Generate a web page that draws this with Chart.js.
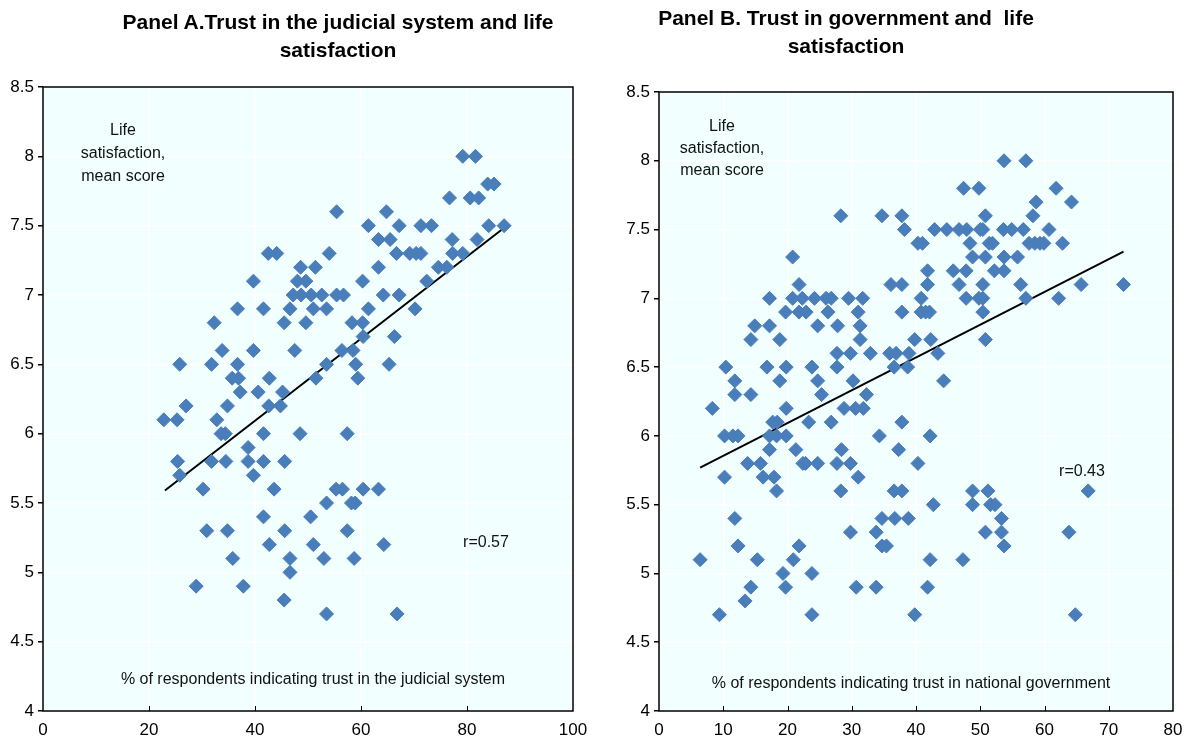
<!DOCTYPE html>
<html lang="en">
<head>
<meta charset="UTF-8">
<title>Trust and life satisfaction</title>
<script src="https://cdn.jsdelivr.net/npm/chart.js"></script>
<style>
  body { margin: 0; width: 1186px; height: 746px; background: #fff; overflow: hidden; position: relative;
         font-family: 'Liberation Sans Narrow', 'Arial Narrow', 'Liberation Sans', Arial, sans-serif; color: #111; }
  canvas { position: absolute; top: 0; }
  #chartA { left: 0; }
  #chartB { left: 600px; }
  .lbl { position: absolute; transform: translate(-50%, -50%); text-align: center; white-space: nowrap; z-index: 2; }
  .title { font-weight: bold; font-size: 21px; line-height: 28px; color: #000; }
  .note { font-size: 16px; line-height: 23px; }
</style>
</head>
<body>
<canvas id="chartA" width="600" height="746"></canvas>
<canvas id="chartB" width="600" height="746"></canvas>

<div class="lbl title" style="left:338px; top:36px;">Panel A.Trust in the judicial system and life<br>satisfaction</div>
<div class="lbl title" style="left:846px; top:32px;">Panel B. Trust in government and&nbsp; life<br>satisfaction</div>

<div class="lbl note" style="left:123px; top:152px;">Life<br>satisfaction,<br>mean score</div>
<div class="lbl note" style="left:722px; top:148px; line-height:22px;">Life<br>satisfaction,<br>mean score</div>

<div class="lbl note" style="left:486px; top:541px;">r=0.57</div>
<div class="lbl note" style="left:1082px; top:470px;">r=0.43</div>

<div class="lbl note" style="left:313px; top:678px;">% of respondents indicating trust in the judicial system</div>
<div class="lbl note" style="left:911px; top:682px;">% of respondents indicating trust in national government</div>

<script>
// Panel A: trust in the judicial system (%) vs life satisfaction
const judicialTrust = [
  79.2, 81.6,
  83.9, 85.1,
  76.7, 80.6, 82.2,
  55.4, 64.8,
  61.4, 67.2, 71.3, 73.3, 84.1, 87.0,
  63.3, 65.5, 77.2, 81.9,
  42.5, 44.1, 54.0, 66.7, 69.2, 70.4, 71.3, 77.3, 79.2,
  48.6, 51.4, 63.3, 74.6, 76.2,
  39.7, 48.0, 49.6, 60.3, 72.4,
  47.2, 48.7, 50.6, 52.6, 55.4, 56.7, 64.2, 67.2,
  36.7, 41.6, 46.6, 51.0, 53.5, 61.4, 70.2,
  32.3, 45.5, 49.6, 58.3, 60.3,
  60.4, 66.3,
  33.8, 39.7, 47.5, 56.4, 58.5,
  25.8, 31.8, 36.7, 53.5, 59.0, 65.3,
  35.7, 36.9, 42.7, 51.5, 59.4,
  37.2, 40.6, 45.2,
  27.0, 34.8, 42.6, 44.8,
  22.8, 25.3, 32.8,
  33.6, 34.4, 41.6, 48.5, 57.4,
  38.7,
  25.4, 31.8, 34.5, 38.7, 41.6, 45.6,
  25.8, 39.7,
  30.2, 43.6, 55.3, 56.5, 60.4, 63.3,
  53.5, 58.2, 58.9,
  41.6, 50.5,
  30.9, 34.8, 45.6, 57.4,
  42.7, 51.0, 64.3,
  35.8, 46.6, 53.0, 58.7,
  46.6,
  28.9, 37.8,
  45.5,
  53.5, 66.8
];
const lifeSatA = [
  8.0, 8.0,
  7.8, 7.8,
  7.7, 7.7, 7.7,
  7.6, 7.6,
  7.5, 7.5, 7.5, 7.5, 7.5, 7.5,
  7.4, 7.4, 7.4, 7.4,
  7.3, 7.3, 7.3, 7.3, 7.3, 7.3, 7.3, 7.3, 7.3,
  7.2, 7.2, 7.2, 7.2, 7.2,
  7.1, 7.1, 7.1, 7.1, 7.1,
  7.0, 7.0, 7.0, 7.0, 7.0, 7.0, 7.0, 7.0,
  6.9, 6.9, 6.9, 6.9, 6.9, 6.9, 6.9,
  6.8, 6.8, 6.8, 6.8, 6.8,
  6.7, 6.7,
  6.6, 6.6, 6.6, 6.6, 6.6,
  6.5, 6.5, 6.5, 6.5, 6.5, 6.5,
  6.4, 6.4, 6.4, 6.4, 6.4,
  6.3, 6.3, 6.3,
  6.2, 6.2, 6.2, 6.2,
  6.1, 6.1, 6.1,
  6.0, 6.0, 6.0, 6.0, 6.0,
  5.9,
  5.8, 5.8, 5.8, 5.8, 5.8, 5.8,
  5.7, 5.7,
  5.6, 5.6, 5.6, 5.6, 5.6, 5.6,
  5.5, 5.5, 5.5,
  5.4, 5.4,
  5.3, 5.3, 5.3, 5.3,
  5.2, 5.2, 5.2,
  5.1, 5.1, 5.1, 5.1,
  5.0,
  4.9, 4.9,
  4.8,
  4.7, 4.7
];
const fitA_x = [23.0, 87.2];
const fitA_y = [5.59, 7.49];

// Panel B: trust in national government (%) vs life satisfaction
const govTrust = [
  53.7, 57.1,
  47.4, 49.8, 61.8,
  58.7, 64.2,
  28.3, 34.7, 37.8, 50.8, 58.2,
  38.2, 42.9, 44.8, 46.7, 47.9, 50.0, 50.4, 53.6, 54.9, 56.7, 60.7,
  40.3, 41.0, 48.4, 51.4, 51.9, 57.6, 58.5, 59.3, 59.9, 62.8,
  20.8, 48.8, 50.8, 53.7, 55.8,
  41.8, 45.8, 47.8, 52.2, 53.7,
  21.8, 36.1, 37.8, 41.8, 46.7, 50.4, 56.3, 65.7, 72.3,
  17.2, 20.8, 22.3, 24.2, 26.0, 26.8, 29.5, 31.7, 40.8, 47.8, 49.8, 50.4, 57.1, 62.2,
  19.7, 21.8, 22.9, 26.3, 31.0, 37.8, 40.8, 41.5, 42.1, 50.4,
  14.9, 17.2, 24.7, 27.8, 31.3,
  14.3, 18.8, 31.3, 39.8, 42.3, 50.8,
  27.7, 29.8, 32.9, 35.9, 36.9, 38.9, 43.4,
  10.4, 16.8, 19.8, 23.8, 27.7, 36.6, 38.7,
  11.8, 18.8, 24.7, 30.2, 44.3,
  11.8, 14.3, 25.3, 32.3,
  8.3, 19.8, 28.8, 30.6, 31.8,
  17.7, 18.4, 23.3, 26.8, 37.8,
  10.2, 11.5, 12.3, 17.2, 18.3, 19.8, 34.3, 42.2,
  17.2, 21.3, 28.4, 37.3,
  13.8, 15.8, 22.4, 22.8, 24.7, 27.7, 29.8, 40.3,
  10.2, 16.2, 17.9, 31.0,
  18.3, 28.3, 36.6, 37.8, 48.8, 51.2, 66.8,
  42.7, 48.8, 51.6, 52.3,
  11.8, 34.7, 36.7, 38.8, 53.3,
  29.8, 33.8, 50.8, 53.3, 63.8,
  12.3, 21.8, 34.7, 35.4, 53.7,
  6.4, 15.3, 20.9, 42.2, 47.3,
  19.3, 23.8,
  14.3, 19.7, 30.7, 33.8, 41.8,
  13.4,
  9.4, 23.8, 39.8, 64.8
];
const lifeSatB = [
  8.0, 8.0,
  7.8, 7.8, 7.8,
  7.7, 7.7,
  7.6, 7.6, 7.6, 7.6, 7.6,
  7.5, 7.5, 7.5, 7.5, 7.5, 7.5, 7.5, 7.5, 7.5, 7.5, 7.5,
  7.4, 7.4, 7.4, 7.4, 7.4, 7.4, 7.4, 7.4, 7.4, 7.4,
  7.3, 7.3, 7.3, 7.3, 7.3,
  7.2, 7.2, 7.2, 7.2, 7.2,
  7.1, 7.1, 7.1, 7.1, 7.1, 7.1, 7.1, 7.1, 7.1,
  7.0, 7.0, 7.0, 7.0, 7.0, 7.0, 7.0, 7.0, 7.0, 7.0, 7.0, 7.0, 7.0, 7.0,
  6.9, 6.9, 6.9, 6.9, 6.9, 6.9, 6.9, 6.9, 6.9, 6.9,
  6.8, 6.8, 6.8, 6.8, 6.8,
  6.7, 6.7, 6.7, 6.7, 6.7, 6.7,
  6.6, 6.6, 6.6, 6.6, 6.6, 6.6, 6.6,
  6.5, 6.5, 6.5, 6.5, 6.5, 6.5, 6.5,
  6.4, 6.4, 6.4, 6.4, 6.4,
  6.3, 6.3, 6.3, 6.3,
  6.2, 6.2, 6.2, 6.2, 6.2,
  6.1, 6.1, 6.1, 6.1, 6.1,
  6.0, 6.0, 6.0, 6.0, 6.0, 6.0, 6.0, 6.0,
  5.9, 5.9, 5.9, 5.9,
  5.8, 5.8, 5.8, 5.8, 5.8, 5.8, 5.8, 5.8,
  5.7, 5.7, 5.7, 5.7,
  5.6, 5.6, 5.6, 5.6, 5.6, 5.6, 5.6,
  5.5, 5.5, 5.5, 5.5,
  5.4, 5.4, 5.4, 5.4, 5.4,
  5.3, 5.3, 5.3, 5.3, 5.3,
  5.2, 5.2, 5.2, 5.2, 5.2,
  5.1, 5.1, 5.1, 5.1, 5.1,
  5.0, 5.0,
  4.9, 4.9, 4.9, 4.9, 4.9,
  4.8,
  4.7, 4.7, 4.7, 4.7
];
const fitB_x = [6.4, 72.3];
const fitB_y = [5.77, 7.34];

const yTicks = [4, 4.5, 5, 5.5, 6, 6.5, 7, 7.5, 8, 8.5];

Chart.defaults.font.family = "'Liberation Sans Narrow', 'Arial Narrow', 'Liberation Sans', Arial, sans-serif";
Chart.defaults.font.size = 17;
Chart.defaults.color = '#000';

// light background, black frame and small inward ticks on the x axis
const framePlugin = {
  id: 'frame',
  beforeDraw(chart) {
    const { ctx, chartArea: a } = chart;
    ctx.save();
    ctx.fillStyle = '#f2ffff';
    ctx.fillRect(a.left, a.top, a.width, a.height);
    ctx.restore();
  },
  afterDraw(chart) {
    const { ctx, chartArea: a } = chart;
    const xs = chart.scales.x;
    ctx.save();
    ctx.strokeStyle = '#000';
    ctx.lineWidth = 1.5;
    ctx.strokeRect(a.left, a.top, a.width, a.height);
    ctx.lineWidth = 1;
    xs.ticks.forEach((t, i) => {
      if (i === 0 || i === xs.ticks.length - 1) return;
      const px = Math.round(xs.getPixelForValue(t.value)) + 0.5;
      ctx.beginPath();
      ctx.moveTo(px, a.bottom);
      ctx.lineTo(px, a.bottom - 5);
      ctx.stroke();
    });
    ctx.restore();
  }
};

function makeChart(id, xs, ys, fitX, fitY, xMax, xStep, yAxisWidth, pad) {
  const pts = xs.map((v, i) => ({ x: v, y: ys[i] }));
  const fit = fitX.map((v, i) => ({ x: v, y: fitY[i] }));
  return new Chart(document.getElementById(id), {
    type: 'scatter',
    data: {
      datasets: [
        {
          data: fit,
          type: 'line',
          showLine: true,
          borderColor: '#000',
          borderWidth: 2,
          pointRadius: 0,
          fill: false,
          order: 2
        },
        {
          data: pts,
          pointStyle: 'rectRot',
          pointRadius: 7,
          pointBorderWidth: 1,
          backgroundColor: '#4a7ebb',
          borderColor: '#4a7ebb',
          order: 1
        }
      ]
    },
    options: {
      responsive: false,
      animation: false,
      layout: { padding: pad },
      plugins: { legend: { display: false }, tooltip: { enabled: false } },
      scales: {
        x: {
          type: 'linear',
          min: 0, max: xMax,
          ticks: { stepSize: xStep, padding: 9, maxRotation: 0 },
          grid: { color: '#ffffff', lineWidth: 1.5, drawTicks: false },
          border: { display: false },
          afterFit(s) { s.height = 35; }
        },
        y: {
          type: 'linear',
          min: 4, max: 8.5,
          afterBuildTicks(s) { s.ticks = yTicks.map(v => ({ value: v })); },
          ticks: { padding: 4, callback: v => String(v) },
          grid: { color: '#ffffff', lineWidth: 1.5, tickColor: '#000', tickLength: 5 },
          border: { display: false },
          afterFit(s) { s.width = yAxisWidth; }
        }
      }
    },
    plugins: [framePlugin]
  });
}

makeChart('chartA', judicialTrust, lifeSatA, fitA_x, fitA_y, 100, 20, 43,
  { top: 87, right: 27, bottom: 0, left: 0 });
makeChart('chartB', govTrust, lifeSatB, fitB_x, fitB_y, 80, 10, 59,
  { top: 92, right: 27, bottom: 0, left: 0 });
</script>
</body>
</html>
